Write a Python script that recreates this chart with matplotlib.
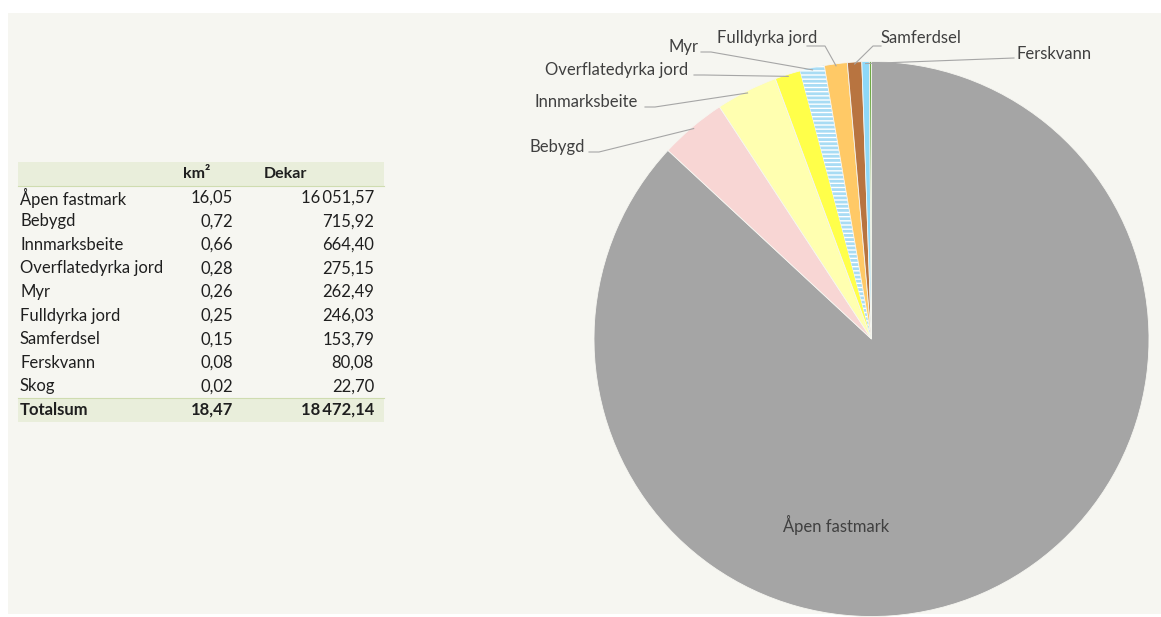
import numpy as np
import matplotlib
matplotlib.use("Agg")
import matplotlib.pyplot as plt
from matplotlib.patches import Rectangle

# land use data
categories = ["Åpen fastmark", "Bebygd", "Innmarksbeite", "Overflatedyrka jord",
              "Myr", "Fulldyrka jord", "Samferdsel", "Ferskvann", "Skog"]
km2 = [16.05, 0.72, 0.66, 0.28, 0.26, 0.25, 0.15, 0.08, 0.02]
dekar = [16051.57, 715.92, 664.40, 275.15, 262.49, 246.03, 153.79, 80.08, 22.70]
total_km2 = 18.47
total_dekar = 18472.14
colors = ["#a5a5a5", "#f8d6d4", "#ffffb0", "#ffff4a", "#ffffff",
          "#ffc966", "#b87440", "#8ed8f8", "#6faa46"]

# label centres in pixels (x, y from top), None = no outside label
label_pos = [None, (557, 147), (586, 102), (617, 70), (683, 47),
             (767, 38), (921, 38), (1054, 54), None]

W, H = 1161, 617
matplotlib.rcParams["hatch.linewidth"] = 2.0
fig = plt.figure(figsize=(W / 100, H / 100), dpi=100)
fig.patch.set_facecolor("white")
ax = fig.add_axes([0, 0, 1, 1])

FONT = ["Lato", "DejaVu Sans"]
txt = "#404040"
lc = "#a6a6a6"

def Y(y):
    return H - y

# panel background
ax.add_patch(Rectangle((8, Y(614)), W - 8, 614 - 13, facecolor="#f6f6f1", edgecolor="none", zorder=0))

# pie
cx, cy, r = 871.5, Y(339), 277.5
wedges, _ = ax.pie(dekar, colors=colors, startangle=90, counterclock=False,
                   center=(cx, cy), radius=r, frame=True,
                   wedgeprops=dict(linewidth=0.6, edgecolor="#f6f6f1"))
ax.set_xlim(0, W)
ax.set_ylim(0, H)
ax.set_aspect("equal")
ax.axis("off")

# hatch for Myr
wedges[4].set_hatch("----")
wedges[4].set_edgecolor("#a8dcf4")
wedges[4].set_linewidth(0)

ax.text(836, Y(525), categories[0], ha="center", va="center", fontsize=12, color=txt, family=FONT)

def rim(w):
    ang = np.deg2rad((w.theta1 + w.theta2) / 2)
    return cx + (r - 2) * np.cos(ang), cy + (r - 2) * np.sin(ang)

for i in range(1, 8):
    w, lab, (lx, ly) = wedges[i], categories[i], label_pos[i]
    sx, sy = rim(w)
    t = ax.text(lx, Y(ly), lab, ha="center", va="center", fontsize=12, color=txt, family=FONT)
    if i <= 4:
        # right end of label, short horizontal then to wedge
        half = {1: 29, 2: 56, 3: 74, 4: 15}[i]
        ex = lx + half + 3
        yy = Y(ly + 5)
        ax.plot([ex, ex + 10, sx], [yy, yy, sy], color=lc, lw=0.8, zorder=3)
    elif lab == "Fulldyrka jord":
        ax.plot([lx + 40, lx + 58, sx], [Y(ly + 8), Y(ly + 8), sy], color=lc, lw=0.8, zorder=3)
    elif lab == "Samferdsel":
        ax.plot([lx - 40, lx - 48, sx], [Y(ly + 8), Y(ly + 8), sy], color=lc, lw=0.8, zorder=3)
    else:
        ax.plot([lx - 40, sx], [Y(ly + 4), sy], color=lc, lw=0.8, zorder=3)

# table
tx0, tx1 = 18, 384
row_h = 23.6
y0 = 174
hdr_bg = "#e9eedb"
tc = "#1f1f1f"
ax.add_patch(Rectangle((tx0, Y(y0 + row_h / 2)), tx1 - tx0, row_h, facecolor=hdr_bg, edgecolor="none", zorder=1))
ax.plot([tx0, tx1], [Y(y0 + row_h / 2)] * 2, color="#cfdcb0", lw=0.8)
ax.text(197, Y(y0), "km²", ha="center", va="center", fontsize=11.5, weight="bold", color=tc, family=FONT)
ax.text(264, Y(y0), "Dekar", ha="left", va="center", fontsize=11.5, weight="bold", color=tc, family=FONT)

def fmt(v):
    return f"{v:,.2f}".replace(",", "\u2009").replace(".", ",")

for i, (c, k, d) in enumerate(zip(categories, km2, dekar)):
    y = y0 + (i + 1) * row_h
    ax.text(20, Y(y), c, ha="left", va="center", fontsize=12, color=tc, family=FONT)
    ax.text(233, Y(y), fmt(k), ha="right", va="center", fontsize=12, color=tc, family=FONT)
    ax.text(374, Y(y), fmt(d), ha="right", va="center", fontsize=12, color=tc, family=FONT)

yt = y0 + 10 * row_h
ax.add_patch(Rectangle((tx0, Y(yt + row_h / 2)), tx1 - tx0, row_h, facecolor=hdr_bg, edgecolor="none", zorder=1))
ax.plot([tx0, tx1], [Y(yt - row_h / 2)] * 2, color="#cfdcb0", lw=0.8)
ax.text(20, Y(yt), "Totalsum", ha="left", va="center", fontsize=12, weight="bold", color=tc, family=FONT)
ax.text(233, Y(yt), fmt(total_km2), ha="right", va="center", fontsize=12, weight="bold", color=tc, family=FONT)
ax.text(374, Y(yt), fmt(total_dekar), ha="right", va="center", fontsize=12, weight="bold", color=tc, family=FONT)

fig.savefig("out.png", dpi=100, facecolor=fig.get_facecolor())
